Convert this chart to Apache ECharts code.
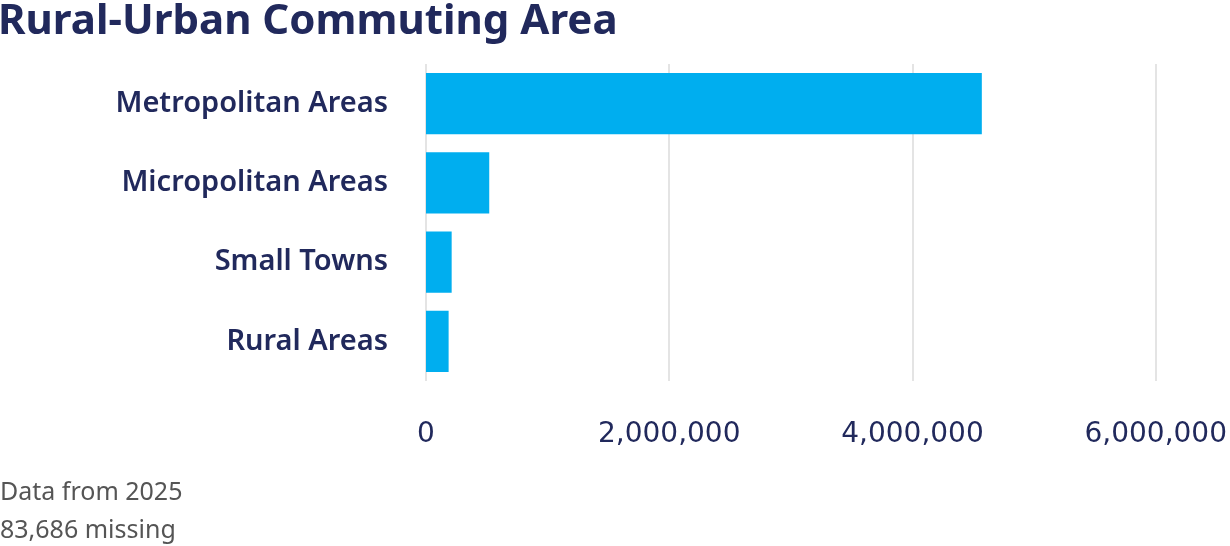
<!DOCTYPE html>
<html style="height: 100%">
<head>
  <meta charset="UTF-8">
  <title>Rural-Urban Commuting Area</title>
  <script src="https://cdn.jsdelivr.net/npm/echarts@6/dist/echarts.min.js"></script>
  <style>
    html, body {
      margin: 0;
      height: 100%;
      width: 100%;
      background: #fff;
    }
    #chart {
      width: 1230px;
      height: 546px;
    }
  </style>
</head>
<body>
  <div id="chart"></div>

  <script>
    // data
    const categories = ['Metropolitan Areas', 'Micropolitan Areas', 'Small Towns', 'Rural Areas'];
    const values = [4570000, 520000, 211000, 186000];
    const footnotes = ['Data from 2025', '83,686 missing'];

    const navy = '#21295c';
    const font = '"Noto Sans", "Open Sans", sans-serif';

    const chart = echarts.init(document.getElementById('chart'));
    chart.setOption({
      animation: false,
      title: [
        {
          text: 'Rural-Urban Commuting Area',
          left: -7,
          top: -4,
          textStyle: {
            fontFamily: font,
            fontSize: 42,
            fontWeight: 'bold',
            color: navy
          }
        },
        {
          text: footnotes.join('\n'),
          left: -5,
          top: 469,
          textStyle: {
            fontFamily: font,
            fontSize: 25,
            fontWeight: 'normal',
            color: '#555',
            lineHeight: 38
          }
        }
      ],
      grid: {
        left: 426,
        right: 73,
        top: 64,
        bottom: 165
      },
      xAxis: {
        type: 'value',
        min: 0,
        max: 6000000,
        interval: 2000000,
        axisLine: { show: false },
        axisTick: { show: false },
        splitLine: { lineStyle: { color: '#e4e4e4', width: 2 } },
        axisLabel: {
          margin: 40,
          fontFamily: '"DejaVu Sans", sans-serif',
          fontSize: 28,
          color: navy,
          formatter: v => v.toLocaleString('en-US')
        }
      },
      yAxis: {
        type: 'category',
        data: categories,
        inverse: true,
        axisLine: { show: false },
        axisTick: { show: false },
        axisLabel: {
          margin: 38,
          fontFamily: font,
          fontSize: 29,
          fontWeight: 600,
          color: navy,
          padding: [6, 0, 0, 0]
        }
      },
      series: [{
        type: 'bar',
        data: values,
        barCategoryGap: '23%',
        itemStyle: { color: '#00aeef' }
      }]
    });
  </script>
</body>
</html>
